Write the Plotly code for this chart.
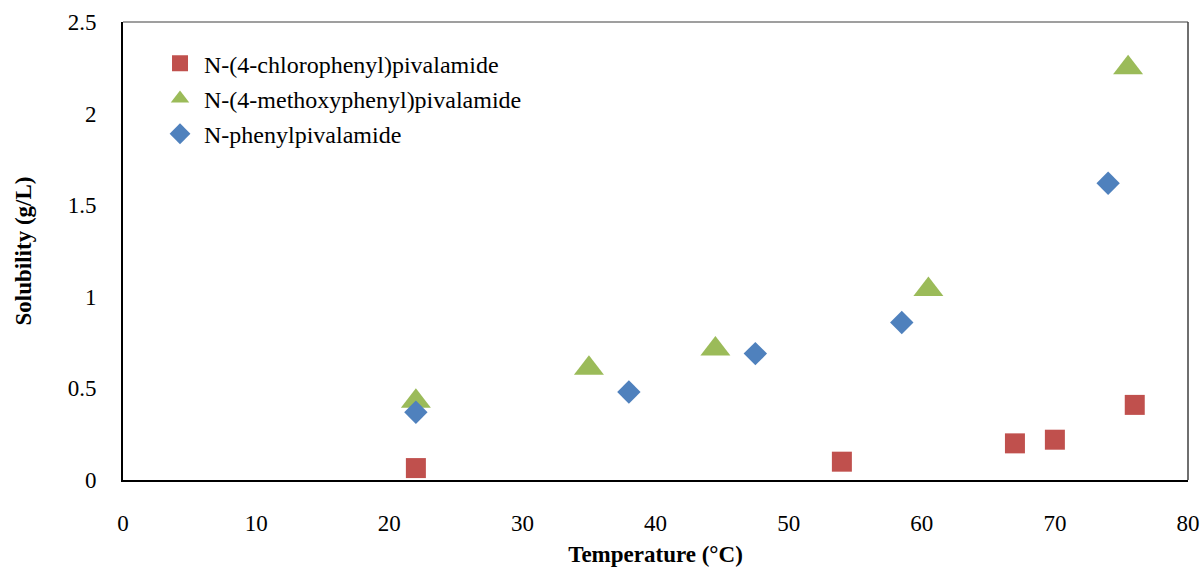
import plotly.graph_objects as go

temp_cl = [22, 54, 67, 70, 76]
sol_cl = [0.065, 0.10, 0.20, 0.22, 0.41]
temp_meo = [22, 35, 44.5, 60.5, 75.5]
sol_meo = [0.43, 0.61, 0.715, 1.04, 2.25]
temp_ph = [22, 38, 47.5, 58.5, 74]
sol_ph = [0.37, 0.48, 0.69, 0.86, 1.62]

names = ["N-(4-chlorophenyl)pivalamide", "N-(4-methoxyphenyl)pivalamide", "N-phenylpivalamide"]
colors = ["#C0504D", "#9BBB59", "#4F81BD"]
symbols = ["square", "triangle-up", "diamond"]
sizes = [20, 26, 18]

fig = go.Figure()
for i, (xs, ys) in enumerate([(temp_cl, sol_cl), (temp_meo, sol_meo), (temp_ph, sol_ph)]):
    fig.add_trace(go.Scatter(
        x=xs, y=ys, mode="markers", name=names[i], legendgroup=names[i],
        marker=dict(symbol=symbols[i], color=colors[i], size=sizes[i], line=dict(width=0)),
    ))

font = "Liberation Serif, Times New Roman, serif"
fig.update_layout(
    width=1204, height=569,
    margin=dict(l=123, r=16, t=22, b=89, autoexpand=False),
    paper_bgcolor="white", plot_bgcolor="white",
    font=dict(family=font, size=23, color="black"),
    legend=dict(x=0.031, y=0.958, xanchor="left", yanchor="top",
                font=dict(family=font, size=24), tracegroupgap=1, itemwidth=38,
                bgcolor="rgba(0,0,0,0)"),
    showlegend=True,
)
fig.update_xaxes(range=[0, 80], dtick=10, tick0=0, showgrid=False, zeroline=False,
                 showline=True, linecolor="black", linewidth=2, mirror=False,
                 ticks="", ticklabelstandoff=21, automargin=False,
                 tickfont=dict(family=font, size=23),
                 title=dict(text="<b>Temperature (°C)</b>", font=dict(family=font, size=23), standoff=11))
fig.update_yaxes(range=[0, 2.5], dtick=0.5, tick0=0, showgrid=False, zeroline=False,
                 showline=True, linecolor="black", linewidth=2, mirror=False,
                 ticks="", ticklabelstandoff=20, automargin=False,
                 tickfont=dict(family=font, size=23),
                 title=dict(text="<b>Solubility (g/L)</b>", font=dict(family=font, size=23), standoff=30))
# thin grey top/right border of plot area
fig.add_shape(type="line", xref="paper", yref="paper", x0=0, x1=1, y0=1, y1=1,
              line=dict(color="#7f7f7f", width=1.5))
fig.add_shape(type="line", xref="paper", yref="paper", x0=1, x1=1, y0=0, y1=1,
              line=dict(color="#3f3f3f", width=1.5))
fig.write_html("out.html")
